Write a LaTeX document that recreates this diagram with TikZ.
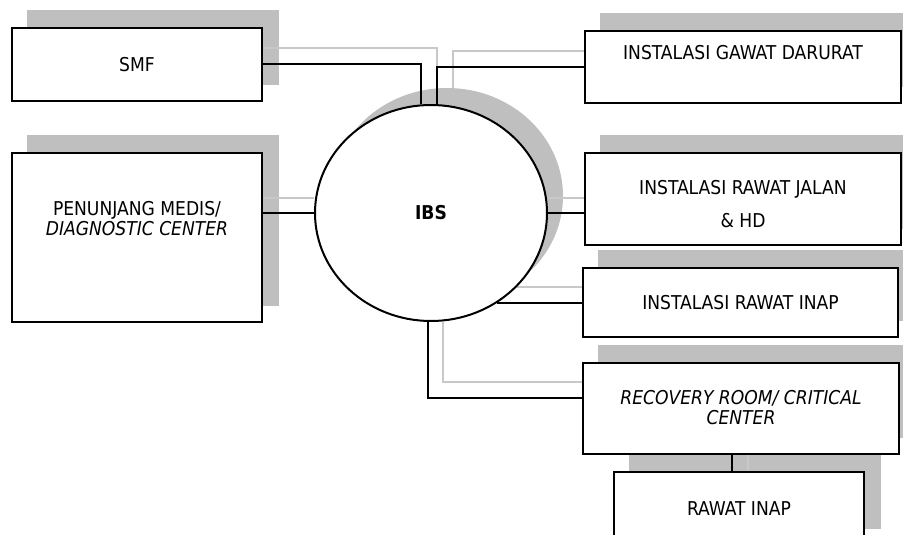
\documentclass[tikz,border=0pt]{standalone}
\usepackage{fontspec}
\setmainfont{DejaVu Sans Condensed}
\usetikzlibrary{calc,shapes.geometric}

\definecolor{bayang}{RGB}{191,191,191}
\definecolor{garisbayang}{RGB}{200,200,200}

\pgfdeclarelayer{bayangan}
\pgfdeclarelayer{kabel}
\pgfsetlayers{bayangan,kabel,main}

\tikzset{
  kotak/.style={draw, line width=1.5pt, fill=white, inner sep=0pt},
  tulisan/.style={align=center, font=\fontsize{14.3}{15}\selectfont},
  hubung/.style={line width=1.5pt},
  hubungabu/.style={line width=1.5pt, garisbayang}
}

\begin{document}
\begin{tikzpicture}[x=0.75pt,y=-0.75pt]
% Offset bayangan
\def\dx{16}
\def\dy{-17}

\useasboundingbox (0,0) rectangle (903,535);

% Kotak unit
\node[kotak, minimum width={250*0.75pt}, minimum height={73*0.75pt}] (smf) at (137,64.5) {};
\node[kotak, minimum width={316*0.75pt}, minimum height={72*0.75pt}] (igd) at (743,67) {};
\node[kotak, minimum width={250*0.75pt}, minimum height={169*0.75pt}] (pm) at (137,237.5) {};
\node[kotak, minimum width={316*0.75pt}, minimum height={92*0.75pt}] (irj) at (743,199) {};
\node[kotak, minimum width={315*0.75pt}, minimum height={69*0.75pt}] (iri) at (740.5,302.5) {};
\node[kotak, minimum width={316*0.75pt}, minimum height={91*0.75pt}] (rrcc) at (741,408.5) {};
\node[kotak, minimum width={250*0.75pt}, minimum height={73*0.75pt}] (ri) at (739,508.5) {};

% Lingkaran IBS
\node[kotak, ellipse, minimum width={232*0.75pt}, minimum height={216*0.75pt}] (ibs) at (431,213) {};

% Tulisan
\node[tulisan] (smf-t) at (smf.center) {SMF};
\node[tulisan] (igd-t) at ($(igd.center)+(0,-14)$) {INSTALASI GAWAT DARURAT};
\node[tulisan] (pm-t) at ($(pm.center)+(0,-18.5)$) {PENUNJANG MEDIS/\\\textit{DIAGNOSTIC CENTER}};
\node[tulisan] (irj-t) at ($(irj.center)+(0,5)$) {INSTALASI RAWAT JALAN\\[10pt]\& HD};
\node[tulisan] (iri-t) at (iri.center) {INSTALASI RAWAT INAP};
\node[tulisan] (rrcc-t) at ($(rrcc.center)+(0,-0.5)$) {\textit{RECOVERY ROOM/ CRITICAL}\\\textit{CENTER}};
\node[tulisan] (ri-t) at (ri.center) {RAWAT INAP};
\node[tulisan, font=\fontsize{14.3}{15}\selectfont\bfseries] (ibs-t) at (ibs.center) {IBS};

% Bayangan
\begin{pgfonlayer}{bayangan}
\foreach \b in {smf,igd,pm,irj,iri,rrcc,ri} {
    \fill[bayang] ($(\b.south west)+(\dx,\dy)$) rectangle ($(\b.north east)+(\dx,\dy)$);
}
\fill[bayang] ($(ibs.center)+(\dx,\dy)$) ellipse [x radius=116, y radius=108];
\end{pgfonlayer}

% Garis penghubung
\begin{pgfonlayer}{kabel}
% garis abu-abu
\draw[hubungabu] ($(smf.east)+(0,-16)$) -| ($(ibs.north)+(6,-16)$);
\draw[hubungabu] ($(igd.west)+(0,-16)$) -| ($(ibs.north)+(22,-16)$);
\draw[hubungabu] ($(pm.east |- ibs.west)+(0,-15)$) -- ($(ibs.west)+(0,-15)$);
\draw[hubungabu] ($(ibs.east)+(0,-15)$) -- ($(irj.west |- ibs.east)+(0,-15)$);
\draw[hubungabu] ($(ibs.-54)+(0,-16)$) -- ($(iri.west |- ibs.-54)+(16,-16)$);
\draw[hubungabu] ($(ibs.south)+(12,0)$) |- ($(rrcc.west)+(0,-26.5)$);
\draw[hubungabu] ($(ri.north)+(9,0)$) -- ($(ri.north |- rrcc.south)+(9,0)$);
% garis hitam
\draw[hubung] (smf.east) -| ($(ibs.north)+(-10,0)$);
\draw[hubung] (igd.west) -| ($(ibs.north)+(6,0)$);
\draw[hubung] (pm.east |- ibs.west) -- (ibs.west);
\draw[hubung] (ibs.east) -- (irj.west |- ibs.east);
\draw[hubung] (ibs.-54) -- (iri.west |- ibs.-54);
\draw[hubung] ($(ibs.south)+(-3,0)$) |- ($(rrcc.west)+(0,-10.5)$);
\draw[hubung] ($(ri.north)+(-7,0)$) -- ($(ri.north |- rrcc.south)+(-7,0)$);
\end{pgfonlayer}
\end{tikzpicture}
\end{document}
